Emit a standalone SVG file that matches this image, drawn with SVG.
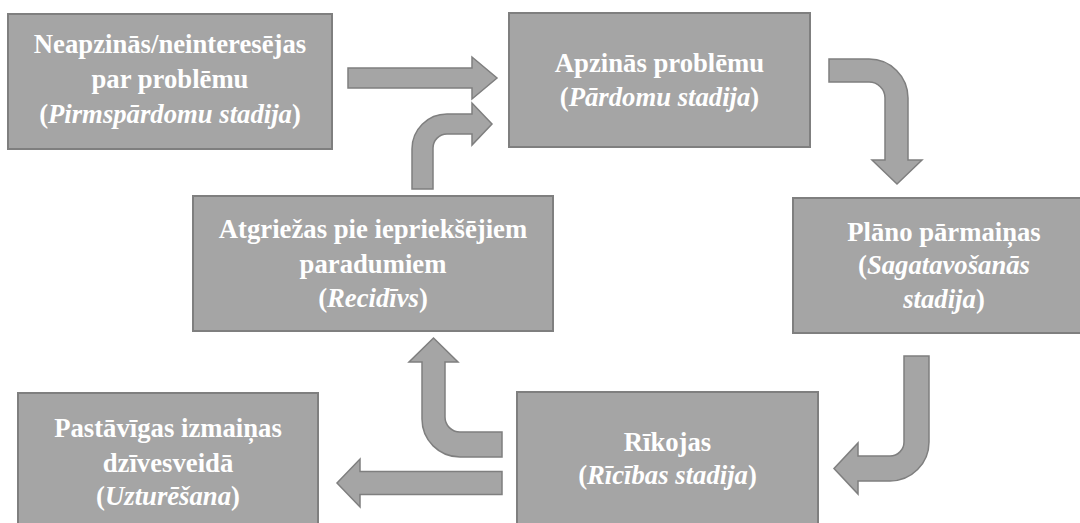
<svg xmlns="http://www.w3.org/2000/svg" width="1080" height="523" viewBox="0 0 1080 523">
<style>
.box{fill:#a5a5a5;stroke:#7f7f7f;stroke-width:2}
.arr{fill:#a5a5a5;stroke:#7f7f7f;stroke-width:1.5;stroke-linejoin:miter}
text{font-family:"Liberation Serif","Times New Roman",serif;font-weight:bold;font-size:26.7px;fill:#ffffff;text-anchor:middle}
.i{font-style:italic}
</style>
<rect width="1080" height="523" fill="#ffffff"/>
<g id="connectors">
<path class="arr" d="M348,68 H472 V57 L497,78 L472,99 V88 H348 Z"/>
<path class="arr" d="M412,189 V149 A35,35 0 0 1 447,114 H472 V103 L492,124 L472,145 V134 H447 A14,14 0 0 0 433,148 V189 Z"/>
<path class="arr" d="M829,59 H869 A39,39 0 0 1 908,98 V160 H922 L897,184 L872,160 H885 V98 A16,16 0 0 0 869,82 H829 Z"/>
<path class="arr" d="M904,356 H929 V442 A39,39 0 0 1 890,481 H858 V494 L834,468.5 L858,443 V456 H890 A14,14 0 0 0 904,442 Z"/>
<path class="arr" d="M502,471.5 H360 V459 L337,483 L360,507 V494.5 H502 Z"/>
<path class="arr" d="M502,432 H460 A15,15 0 0 1 445,417 V362 H458 L433.5,338 L409,362 H422 V419 A38,38 0 0 0 460,457 H502 Z"/>
</g>
<g id="n1">
<rect class="box" x="8" y="14" width="324" height="135"/>
<text x="170" y="53">Neapzinās/neinteresējas</text>
<text x="170" y="88">par problēmu</text>
<text x="170" y="123">(<tspan class="i">Pirmspārdomu stadija</tspan>)</text>
</g>
<g id="n2">
<rect class="box" x="509" y="13" width="301" height="134"/>
<text x="659.5" y="72">Apzinās problēmu</text>
<text x="659.5" y="106">(<tspan class="i">Pārdomu stadija</tspan>)</text>
</g>
<g id="n3">
<rect class="box" x="193" y="196" width="360" height="135"/>
<text x="373" y="238">Atgriežas pie iepriekšējiem</text>
<text x="373" y="273">paradumiem</text>
<text x="373" y="307">(<tspan class="i">Recidīvs</tspan>)</text>
</g>
<g id="n4">
<rect class="box" x="793" y="198" width="302" height="135"/>
<text x="944" y="241">Plāno pārmaiņas</text>
<text x="944" y="274">(<tspan class="i">Sagatavošanās</tspan></text>
<text x="944" y="308"><tspan class="i">stadija</tspan>)</text>
</g>
<g id="n5">
<rect class="box" x="18" y="393" width="300" height="135"/>
<text x="168" y="437">Pastāvīgas izmaiņas</text>
<text x="168" y="472">dzīvesveidā</text>
<text x="168" y="505">(<tspan class="i">Uzturēšana</tspan>)</text>
</g>
<g id="n6">
<rect class="box" x="517" y="392" width="301" height="135"/>
<text x="667.5" y="451">Rīkojas</text>
<text x="667.5" y="484">(<tspan class="i">Rīcības stadija</tspan>)</text>
</g>
</svg>
